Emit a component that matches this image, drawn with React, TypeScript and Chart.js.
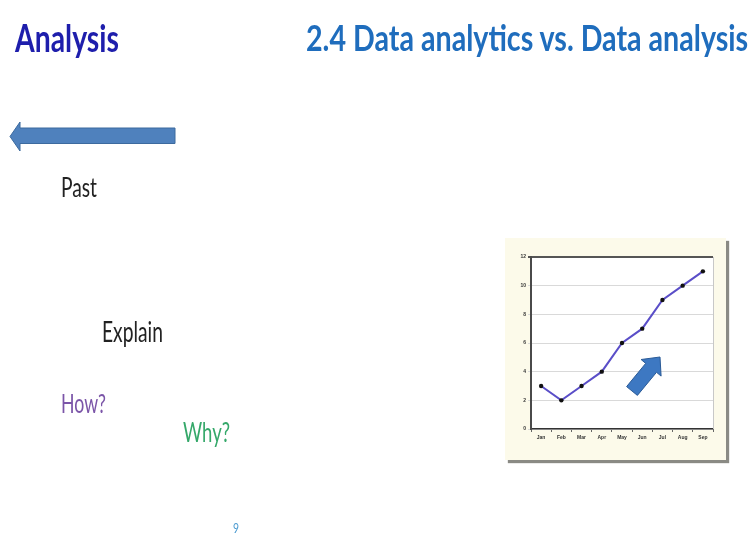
import React, { useEffect, useRef } from "react";
import { Chart, registerables } from "chart.js";

Chart.register(...registerables);

const months = ["Jan", "Feb", "Mar", "Apr", "May", "Jun", "Jul", "Aug", "Sep"];
const values = [3, 2, 3, 4, 6, 7, 9, 10, 11];
const yMin = 0;
const yMax = 12;
const yStep = 2;

const frameBg = "#fcfaea";

const plotDecor = {
  id: "plotDecor",
  beforeDraw(chart: any) {
    const { ctx, chartArea: a } = chart;
    ctx.save();
    ctx.fillStyle = "#ffffff";
    ctx.fillRect(a.left, a.top, a.right - a.left, a.bottom - a.top);
    ctx.restore();
  },
  afterDraw(chart: any) {
    const { ctx, chartArea: a } = chart;
    ctx.save();
    ctx.strokeStyle = "#c8c8c8";
    ctx.lineWidth = 1;
    ctx.beginPath();
    ctx.moveTo(a.right + 0.5, a.top);
    ctx.lineTo(a.right + 0.5, a.bottom);
    ctx.stroke();
    ctx.restore();
  },
};

function arrowPoints(tx: number, ty: number, px: number, py: number, shaftHalf: number, headHalf: number, headLen: number) {
  const dx = px - tx;
  const dy = py - ty;
  const len = Math.hypot(dx, dy);
  const ux = dx / len;
  const uy = dy / len;
  const nx = -uy;
  const ny = ux;
  const bx = px - headLen * ux;
  const by = py - headLen * uy;
  const pts = [
    [tx + shaftHalf * nx, ty + shaftHalf * ny],
    [bx + shaftHalf * nx, by + shaftHalf * ny],
    [bx + headHalf * nx, by + headHalf * ny],
    [px, py],
    [bx - headHalf * nx, by - headHalf * ny],
    [bx - shaftHalf * nx, by - shaftHalf * ny],
    [tx - shaftHalf * nx, ty - shaftHalf * ny],
  ];
  return pts.map((p) => p[0].toFixed(1) + "," + p[1].toFixed(1)).join(" ");
}

let measureCtx: CanvasRenderingContext2D | null = null;
function measure(t: string, weight: number): number {
  if (!measureCtx) {
    const c = document.createElement("canvas");
    measureCtx = c.getContext("2d");
  }
  if (!measureCtx) return t.length * 50;
  measureCtx.font = `${weight} 100px Lato`;
  return measureCtx.measureText(t).width;
}

export default function App() {
  const ref = useRef<HTMLCanvasElement | null>(null);

  useEffect(() => {
    if (!ref.current) return;
    const chart = new Chart(ref.current, {
      type: "line",
      data: {
        labels: months,
        datasets: [
          {
            data: values,
            borderColor: "#5a4ec8",
            borderWidth: 2,
            pointBackgroundColor: "#111111",
            pointBorderColor: "#111111",
            pointRadius: 2.2,
            pointBorderWidth: 0,
            tension: 0,
            fill: false,
          },
        ],
      },
      options: {
        animation: false,
        responsive: false,
        devicePixelRatio: 1,
        layout: { padding: { top: 19, right: 13, left: 0, bottom: 0 } },
        plugins: {
          legend: { display: false },
          tooltip: { enabled: false },
          title: { display: false },
        },
        scales: {
          x: {
            type: "category",
            offset: true,
            grid: {
              offset: true,
              drawOnChartArea: false,
              drawTicks: true,
              tickLength: 3,
              color: "#666666",
            },
            border: { display: true, color: "#333333", width: 1.5 },
            ticks: {
              color: "#333333",
              font: { size: 5, weight: "bold", family: "Liberation Sans" },
              padding: 3,
              maxRotation: 0,
              autoSkip: false,
            },
            afterFit: (s: any) => {
              s.height = 31;
            },
          },
          y: {
            min: yMin,
            max: yMax,
            grid: {
              color: (c: any) => (c.tick && c.tick.value === yMax ? "#555555" : "#d9d9d9"),
              lineWidth: (c: any) => (c.tick && c.tick.value === yMax ? 2 : 1),
              drawTicks: true,
              tickLength: 3,
            },
            border: { display: true, color: "#4a4a4a", width: 2 },
            ticks: {
              stepSize: yStep,
              color: "#333333",
              font: { size: 5, weight: "bold", family: "Liberation Sans" },
              padding: 2,
            },
            afterFit: (s: any) => {
              s.width = 26;
            },
          },
        },
      },
      plugins: [plotDecor],
    });
    return () => chart.destroy();
  }, []);

  const txt = (
    t: string,
    x: number,
    baseline: number,
    cap: number,
    width: number,
    color: string,
    weight: number
  ) => {
    const natural = measure(t, weight);
    const fs = (100 * width) / natural;
    const sy = cap / 0.7165 / fs;
    return (
      <text
        transform={`translate(${x} ${baseline}) scale(1 ${sy.toFixed(4)})`}
        x={0}
        y={0}
        fontSize={fs}
        fontFamily="Lato"
        fontWeight={weight}
        fill={color}
      >
        {t}
      </text>
    );
  };

  return (
    <div
      style={{
        position: "fixed",
        left: 0,
        top: 0,
        width: 756,
        height: 535,
        background: "#ffffff",
        overflow: "hidden",
      }}
    >
      <div
        style={{
          position: "absolute",
          left: 505,
          top: 238,
          width: 221,
          height: 222,
          background: frameBg,
          boxShadow: "3px 3px 1px #8a8a84",
        }}
      >
        <canvas ref={ref} width={221} height={222} style={{ width: 221, height: 222, display: "block" }} />
      </div>
      <svg
        width={756}
        height={535}
        style={{ position: "absolute", left: 0, top: 0, pointerEvents: "none" }}
      >
        {txt("Analysis", 15, 52, 27, 104, "#1e1eac", 700)}
        {txt("2.4 Data analytics vs. Data analysis", 306, 51, 26, 443, "#1f6dbd", 700)}
        <polygon
          points="10,136.5 20,122 20,128 175,128 175,143.5 20,143.5 20,151"
          fill="#4f81bd"
          stroke="#3c6a9e"
          strokeWidth={1}
        />
        {txt("Past", 61, 197, 20, 36, "#222222", 400)}
        {txt("Explain", 102, 342, 21, 61, "#222222", 400)}
        {txt("How?", 61, 413, 19, 45, "#7b55a8", 400)}
        {txt("Why?", 183, 442, 20, 47, "#35a86a", 400)}
        {txt("9", 233, 533, 10, 6, "#4a9ad0", 400)}
        <polygon
          points={arrowPoints(632, 391, 660, 357, 7, 13, 14)}
          fill="#3d78c2"
          stroke="#2a5a96"
          strokeWidth={1}
        />
      </svg>
    </div>
  );
}
